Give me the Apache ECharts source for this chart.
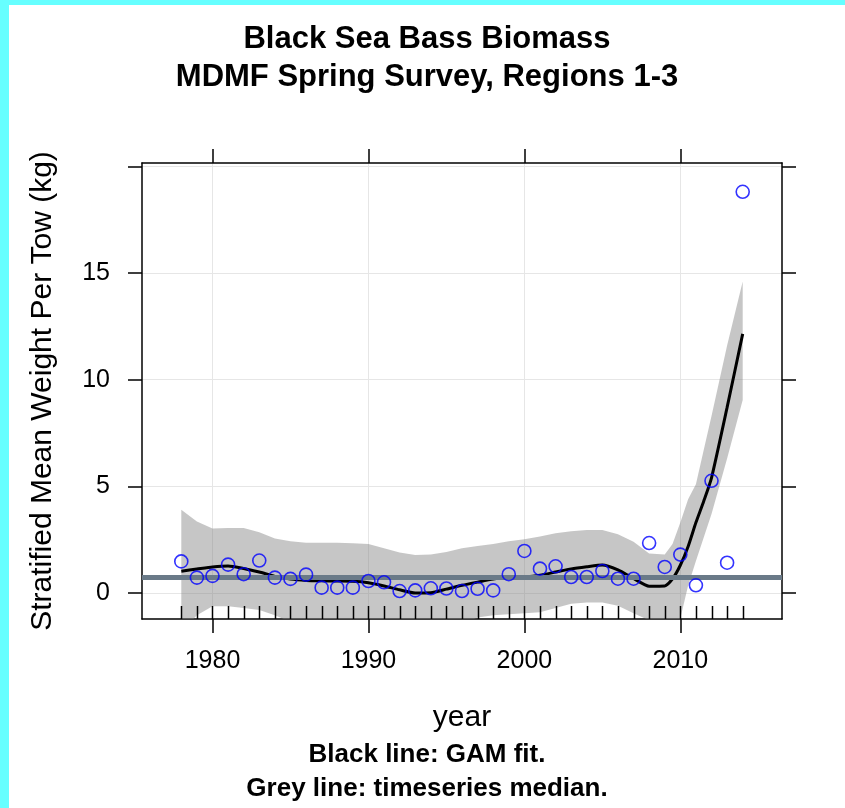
<!DOCTYPE html>
<html><head><meta charset="utf-8">
<script src="https://cdn.jsdelivr.net/npm/echarts@6/dist/echarts.min.js"></script>
<style>
html,body{margin:0;padding:0;background:#66ffff;width:845px;height:808px;overflow:hidden}
#chart{position:absolute;left:9px;top:5px;width:836px;height:803px;background:#fff}
</style></head><body><div id="chart"></div>
<script>
const years = [1978,1979,1980,1981,1982,1983,1984,1985,1986,1987,1988,1989,1990,1991,1992,1993,1994,1995,1996,1997,1998,1999,2000,2001,2002,2003,2004,2005,2006,2007,2008,2009,2010,2011,2012,2013,2014];
const biomass = [1.48,0.72,0.80,1.33,0.88,1.52,0.72,0.66,0.86,0.25,0.25,0.25,0.56,0.50,0.09,0.12,0.22,0.21,0.09,0.20,0.12,0.88,1.97,1.14,1.25,0.75,0.75,1.03,0.67,0.67,2.34,1.22,1.80,0.36,5.26,1.42,18.81];
const fitYears = [1978,1979,1980,1981,1982,1983,1984,1985,1986,1987,1988,1989,1990,1991,1992,1993,1994,1995,1996,1997,1998,1999,2000,2001,2002,2003,2004,2005,2006,2007,2008,2009,2009.5,2010,2010.5,2011,2011.5,2012,2013,2014];
const fitValues = [1.02,1.12,1.22,1.27,1.15,0.98,0.78,0.65,0.59,0.57,0.56,0.55,0.48,0.33,0.15,0.00,0.01,0.18,0.36,0.51,0.65,0.72,0.75,0.83,0.98,1.13,1.23,1.31,1.08,0.68,0.32,0.33,0.66,1.30,2.18,3.30,4.30,5.40,8.70,12.15];
const bandYears = [1978,1979,1980,1981,1982,1983,1984,1985,1986,1987,1988,1989,1990,1991,1992,1993,1994,1995,1996,1997,1998,1999,2000,2001,2002,2003,2004,2005,2006,2007,2008,2009,2009.5,2010,2010.5,2011,2011.5,2012,2013,2014];
const bandUpper = [3.90,3.35,3.02,3.05,3.05,2.85,2.55,2.42,2.36,2.35,2.35,2.33,2.30,2.10,1.90,1.78,1.80,1.92,2.10,2.20,2.30,2.42,2.52,2.65,2.80,2.90,2.95,2.95,2.75,2.40,1.85,1.80,2.30,3.30,4.40,5.10,6.70,8.30,11.60,14.60];
const bandLower = [-1.80,-1.05,-0.62,-0.62,-0.70,-0.80,-1.05,-1.35,-1.40,-1.45,-1.50,-1.50,-1.55,-1.60,-1.70,-1.85,-1.85,-1.60,-1.45,-1.15,-1.05,-1.00,-0.95,-0.90,-0.70,-0.50,-0.45,-0.45,-0.60,-0.95,-1.28,-1.60,-1.50,-1.20,0.35,1.50,2.60,3.70,6.30,9.05];
const xTicks = [1980,1990,2000,2010];
const yTicks = [0,5,10,15,20];
const yLabelValues = [0,5,10,15];
const xRange = [1975.48, 2016.52];
const yRange = [-1.22, 20.16];

const sorted = biomass.slice().sort((a,b)=>a-b);
const median = sorted[(sorted.length-1)/2];

const FONT = 'Liberation Sans, Arial, sans-serif';
const chart = echarts.init(document.getElementById('chart'));

function axisBase(extra){
  return Object.assign({
    type:'value',
    axisLine:{show:true,onZero:false,lineStyle:{color:'#000',width:1.5}},
    axisTick:{show:true,inside:false,length:14,lineStyle:{color:'#000',width:1.5}},
    splitLine:{show:false},
    axisLabel:{show:false}
  }, extra);
}

const option = {
  animation:false,
  backgroundColor:'#fff',
  title:[
    {text:'Black Sea Bass Biomass',left:'center',top:19,padding:0,textStyle:{fontFamily:FONT,fontSize:31,fontWeight:'bold',color:'#000',lineHeight:31}},
    {text:'MDMF Spring Survey, Regions 1-3',left:'center',top:57,padding:0,textStyle:{fontFamily:FONT,fontSize:31,fontWeight:'bold',color:'#000',lineHeight:31}},
    {text:'Black line: GAM fit.',left:'center',top:737,padding:0,textStyle:{fontFamily:FONT,fontSize:26,fontWeight:'bold',color:'#000',lineHeight:26}},
    {text:'Grey line: timeseries median.',left:'center',top:771,padding:0,textStyle:{fontFamily:FONT,fontSize:26,fontWeight:'bold',color:'#000',lineHeight:26}}
  ],
  grid:{left:133,right:63,top:158,bottom:189,containLabel:false},
  xAxis:[
    axisBase({position:'bottom',min:xRange[0],max:xRange[1],
      axisTick:{show:true,inside:false,length:14,customValues:xTicks,lineStyle:{color:'#000',width:1.5}},
      axisLabel:{show:true,customValues:xTicks,margin:30,fontSize:25,color:'#000',fontFamily:FONT,formatter:v=>String(v)},
      splitLine:{show:true,lineStyle:{color:'#e6e6e6',width:1}},
      name:'year',nameLocation:'middle',nameGap:84,nameTextStyle:{fontSize:30,color:'#000',fontFamily:FONT}}),
    axisBase({position:'top',min:xRange[0],max:xRange[1],
      axisTick:{show:true,inside:false,length:14,customValues:xTicks,lineStyle:{color:'#000',width:1.5}}})
  ],
  yAxis:[
    axisBase({position:'left',min:yRange[0],max:yRange[1],
      axisTick:{show:true,inside:false,length:14,customValues:yTicks,lineStyle:{color:'#000',width:1.5}},
      axisLabel:{show:true,customValues:yLabelValues,margin:32,fontSize:25,color:'#000',fontFamily:FONT,formatter:v=>String(v)},
      splitLine:{show:true,lineStyle:{color:'#e6e6e6',width:1}},
      name:'Stratified Mean Weight Per Tow (kg)',nameLocation:'middle',nameRotate:90,nameGap:84,
      nameTextStyle:{fontSize:30,color:'#000',fontFamily:FONT}}),
    axisBase({position:'right',min:yRange[0],max:yRange[1],
      axisTick:{show:true,inside:false,length:14,customValues:yTicks,lineStyle:{color:'#000',width:1.5}}})
  ],
  series:[
    {
      type:'custom', name:'band', z:1, clip:true, silent:true,
      data: bandYears.map((y,i)=>[y,bandUpper[i]]),
      renderItem:(params, api)=>{
        if (params.dataIndex !== 0) return null;
        const pts = [];
        for (let i=0;i<bandYears.length;i++) pts.push(api.coord([bandYears[i], bandUpper[i]]));
        for (let i=bandYears.length-1;i>=0;i--) pts.push(api.coord([bandYears[i], bandLower[i]]));
        return {type:'polygon', shape:{points:pts}, style:{fill:'rgba(128,128,128,0.45)'}};
      }
    },
    {
      type:'line', name:'median', z:3, data:[], silent:true,
      markLine:{silent:true,symbol:['none','none'],label:{show:false},animation:false,
        lineStyle:{color:'#6a7a88',width:5,type:'solid'},
        data:[{yAxis:median}]}
    },
    {
      type:'line', name:'GAM', z:4, silent:true, showSymbol:false, symbol:'none',
      smooth:0.2,
      lineStyle:{color:'#000',width:3},
      data: fitYears.map((y,i)=>[y,fitValues[i]])
    },
    {
      type:'scatter', name:'biomass', z:6, silent:true,
      symbol:'circle', symbolSize:13,
      itemStyle:{color:'rgba(0,0,0,0)',borderColor:'#0000ff',borderWidth:1.6},
      data: years.map((y,i)=>[y,biomass[i]])
    },
    {
      type:'custom', name:'rug', z:5, silent:true,
      data: years.map(y=>[y,0]),
      renderItem:(params, api)=>{
        const cs = params.coordSys;
        const x = Math.round(api.coord([api.value(0),0])[0]) + 0.5;
        const yb = cs.y + cs.height;
        return {type:'line', shape:{x1:x,y1:yb,x2:x,y2:yb-13}, style:{stroke:'#000',lineWidth:1.5}};
      }
    }
  ]
};
chart.setOption(option);
</script></body></html>
